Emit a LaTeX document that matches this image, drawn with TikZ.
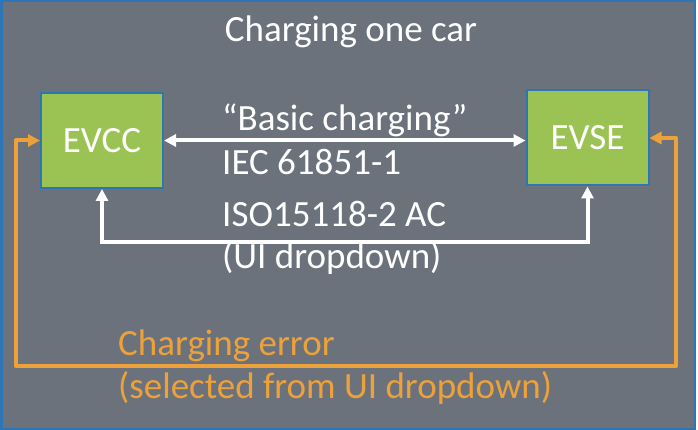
\documentclass[tikz,border=0pt]{standalone}
\usepackage{fontspec}
\setmainfont{Carlito}
\usetikzlibrary{arrows.meta,shadows}

\newlength{\du}
\setlength{\du}{1pt}
\definecolor{slidegray}{RGB}{108,114,123}
\definecolor{slideblue}{RGB}{46,117,182}
\definecolor{boxgreen}{RGB}{155,195,84}
\definecolor{errorange}{RGB}{236,161,58}

\tikzset{
  unitbox/.style={draw=slideblue, line width=2\du, fill=boxgreen, text=white,
    minimum width=122\du, minimum height=95\du, inner sep=0pt,
    font=\fontsize{37}{44}\selectfont,
    drop shadow={opacity=0.35, shadow xshift=1.5\du, shadow yshift=-1.5\du}},
  msgtext/.style={anchor=base west, text=white, inner sep=0pt,
    font=\fontsize{37}{44}\selectfont},
  link/.style={draw=white, line width=4\du,
    {Triangle[length=12pt,width=12pt]}-{Triangle[length=12pt,width=12pt]}},
  errlink/.style={draw=errorange, line width=4\du, line join=round,
    {Triangle[length=12pt,width=12pt]}-{Triangle[length=12pt,width=12pt]}}
}

\begin{document}
\begin{tikzpicture}[x=\du,y=\du]
\pgftransformyscale{-1.000000}
\useasboundingbox (0,0) rectangle (698,430);
\fill[white] (0,0) rectangle (698,430);
\fill[slidegray] (0,0) rectangle (695,430);
\draw[slideblue, line width=2.5\du] (1.25,1.25) rectangle (694.75,428.75);

% title
\node[anchor=base, text=white, inner sep=0pt, font=\fontsize{37}{44}\selectfont]
  (title) at (351,42) {Charging one car};

% the two units
\node[unitbox] (evcc) at (102,140.5) {EVCC};
\node[unitbox] (evse) at (587.5,138) {EVSE};

% white links
\draw[link] (evcc.east) -- (evcc.east -| evse.west);
\draw[link] (evcc.south) -- ++(0,53) -| (evse.south);

\node[msgtext] (basic) at (222,131) {“Basic charging”};
\node[msgtext] (iec) at (222,175) {IEC 61851-1};
\node[msgtext] (iso) at (222,227) {ISO15118-2 AC};
\node[msgtext] (uidrop) at (222,268) {(UI dropdown)};

% error loop
\coordinate (errleft) at (16,366);
\coordinate (errright) at (676,366);
\draw[errlink] (evcc.west) -| (errleft) -- (errright) |- (evse.east);

\node[msgtext, text=errorange] (errtitle) at (118,355) {Charging error};
\node[msgtext, text=errorange] (errnote) at (118,398) {(selected from UI dropdown)};
\end{tikzpicture}
\end{document}
